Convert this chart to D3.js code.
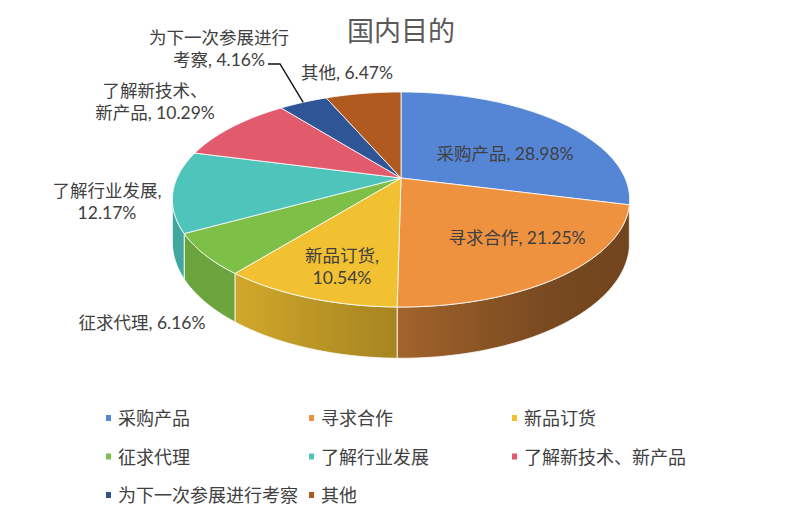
<!DOCTYPE html>
<html>
<head>
<meta charset="utf-8">
<script src="https://cdn.jsdelivr.net/npm/d3@7"></script>
<style>
  body { margin: 0; background: #fff; }
  text { font-family: Lato, "Noto Sans CJK SC", sans-serif; }
</style>
</head>
<body>
<svg id="chart" width="800" height="518"></svg>
<script>
const categories = ["采购产品", "寻求合作", "新品订货", "征求代理", "了解行业发展", "了解新技术、新产品", "为下一次参展进行考察", "其他"];
const values = [28.98, 21.25, 10.54, 6.16, 12.17, 10.29, 4.16, 6.47];
const labelLines = [
  ["采购产品, 28.98%"],
  ["寻求合作, 21.25%"],
  ["新品订货,", "10.54%"],
  ["征求代理, 6.16%"],
  ["了解行业发展,", "12.17%"],
  ["了解新技术、", "新产品, 10.29%"],
  ["为下一次参展进行", "考察, 4.16%"],
  ["其他, 6.47%"]
];
const colors = ["#5586D6", "#EF9240", "#F1C131", "#7DBF47", "#4EC4BB", "#E15B6C", "#2F5597", "#B05A1F"];
// label centres (text layout only)
const labelPos = [[505, 153], [517, 237], [342, 255], [142, 322], [107, 190], [155, 90], [219, 37], [347, 72]];

const svg = d3.select("#chart");
const color = d3.scaleOrdinal().domain(categories).range(colors);

// simple perspective projection of the tilted disc
const cx = 401, cy = 178, rx = 224, ry = 103.2, k = -0.2, depth = 41;
function proj(a, r, z) {
  const u = r * Math.sin(a), v = -r * Math.cos(a);
  const s = 1 / (1 + k * v);
  return [cx + rx * u * s, cy + ry * v * s + z * depth * s];
}
function arcPts(a0, a1, z) {
  const n = Math.max(2, Math.ceil(Math.abs(a1 - a0) * 40));
  return d3.range(n + 1).map(i => proj(a0 + (a1 - a0) * i / n, 1, z));
}
const line = d3.line();

const pie = d3.pie().sort(null).value(d => d.value);
const slices = pie(categories.map((c, i) => ({ cat: c, value: values[i] })));

// title
svg.append("text")
  .attr("x", 401).attr("y", 30)
  .attr("text-anchor", "middle")
  .attr("dominant-baseline", "central")
  .attr("font-size", 27)
  .attr("fill", "#595959")
  .text("国内目的");

// side walls (front half only)
const aL = Math.acos(k), aR = 2 * Math.PI - Math.acos(k);
const shade = d3.scaleLinear().domain([170, 240, 397, 560, 640]).range([0.45, 0.4, 1.05, 2.0, 2.1]).clamp(true);
const defs = svg.append("defs");

slices.forEach((d, i) => {
  const a0 = Math.max(d.startAngle, aL), a1 = Math.min(d.endAngle, aR);
  if (a1 <= a0) return;
  const top = arcPts(a0, a1, 0);
  const bottom = arcPts(a0, a1, 1).reverse();
  const xs = top.map(p => p[0]);
  const x1 = d3.min(xs), x2 = d3.max(xs);
  const gid = "wall" + i;
  const g = defs.append("linearGradient")
    .attr("id", gid)
    .attr("gradientUnits", "userSpaceOnUse")
    .attr("x1", x1).attr("x2", x2).attr("y1", 0).attr("y2", 0);
  d3.range(6).forEach(j => {
    const t = j / 5;
    g.append("stop")
      .attr("offset", t)
      .attr("stop-color", d3.color(color(d.data.cat)).darker(shade(x1 + (x2 - x1) * t)));
  });
  svg.append("path")
    .attr("d", line(top.concat(bottom)) + "Z")
    .attr("fill", `url(#${gid})`)
    .attr("stroke", "#fff")
    .attr("stroke-width", 0.8)
    .attr("stroke-linejoin", "round");
});

// top faces
svg.selectAll(".slice")
  .data(slices)
  .enter()
  .append("path")
  .attr("class", "slice")
  .attr("d", d => line([[cx, cy]].concat(arcPts(d.startAngle, d.endAngle, 0))) + "Z")
  .attr("fill", d => color(d.data.cat))
  .attr("stroke", "#fff")
  .attr("stroke-width", 0.8)
  .attr("stroke-linejoin", "round");

// leader line for the small slice
const small = slices[6];
const tip = proj((small.startAngle + small.endAngle) / 2, 1, 0);
svg.append("path")
  .attr("d", line([[labelPos[6][0] + 49, labelPos[6][1] + 27], [labelPos[6][0] + 61, labelPos[6][1] + 27], tip]))
  .attr("fill", "none")
  .attr("stroke", "#111")
  .attr("stroke-width", 1.4);

// data labels
slices.forEach((d, i) => {
  const lines = labelLines[i];
  const t = svg.append("text")
    .attr("text-anchor", "middle")
    .attr("dominant-baseline", "central")
    .attr("font-size", 17.5)
    .attr("fill", "#404040");
  lines.forEach((s, j) => {
    t.append("tspan")
      .attr("x", labelPos[i][0])
      .attr("y", labelPos[i][1] + j * 22)
      .text(s);
  });
});

// legend
const legend = svg.selectAll(".legend")
  .data(categories)
  .enter()
  .append("g")
  .attr("class", "legend")
  .attr("transform", (d, i) => `translate(${118 + (i % 3) * 203},${418 + Math.floor(i / 3) * 38.5})`);

legend.append("rect")
  .attr("x", -12).attr("y", -3)
  .attr("width", 5).attr("height", 6)
  .attr("fill", d => color(d));

legend.append("text")
  .attr("x", 0).attr("y", 0)
  .attr("dominant-baseline", "central")
  .attr("font-size", 18)
  .attr("fill", "#404040")
  .text(d => d);
</script>
</body>
</html>
